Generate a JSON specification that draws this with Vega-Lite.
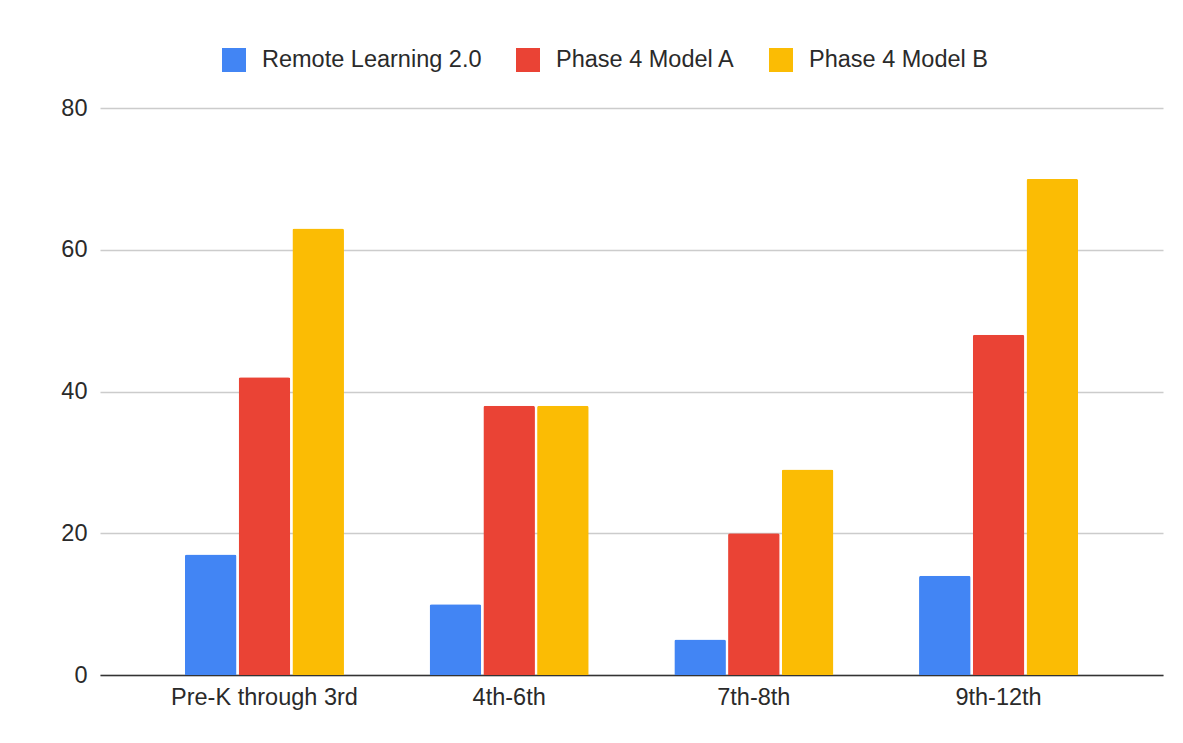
{
  "$schema": "https://vega.github.io/schema/vega-lite/v6.json",
  "width": 1063,
  "height": 567,
  "autosize": {"type": "none"},
  "padding": {"left": 100, "top": 108, "right": 20, "bottom": 68},
  "background": "white",
  "config": {
    "font": "Liberation Sans",
    "view": {"stroke": null},
    "axis": {"labelFont": "Liberation Sans", "labelFontSize": 23.5, "labelColor": "#2a2a2a", "labelLimit": 0},
    "legend": {"labelFont": "Liberation Sans", "labelFontSize": 23.5, "labelColor": "#2a2a2a", "labelLimit": 0}
  },
  "data": {
    "values": [
      {"grade": "Pre-K through 3rd", "series": "Remote Learning 2.0", "value": 17},
      {"grade": "Pre-K through 3rd", "series": "Phase 4 Model A", "value": 42},
      {"grade": "Pre-K through 3rd", "series": "Phase 4 Model B", "value": 63},
      {"grade": "4th-6th", "series": "Remote Learning 2.0", "value": 10},
      {"grade": "4th-6th", "series": "Phase 4 Model A", "value": 38},
      {"grade": "4th-6th", "series": "Phase 4 Model B", "value": 38},
      {"grade": "7th-8th", "series": "Remote Learning 2.0", "value": 5},
      {"grade": "7th-8th", "series": "Phase 4 Model A", "value": 20},
      {"grade": "7th-8th", "series": "Phase 4 Model B", "value": 29},
      {"grade": "9th-12th", "series": "Remote Learning 2.0", "value": 14},
      {"grade": "9th-12th", "series": "Phase 4 Model A", "value": 48},
      {"grade": "9th-12th", "series": "Phase 4 Model B", "value": 70}
    ]
  },
  "mark": {"type": "bar", "cornerRadiusTopLeft": 2, "cornerRadiusTopRight": 2},
  "encoding": {
    "x": {
      "field": "grade",
      "type": "nominal",
      "sort": ["Pre-K through 3rd", "4th-6th", "7th-8th", "9th-12th"],
      "scale": {"paddingInner": 0.35, "paddingOuter": 0.347},
      "axis": {
        "title": null,
        "labelAngle": 0,
        "ticks": false,
        "labelPadding": 10,
        "labelLimit": 0,
        "domain": true,
        "domainColor": "#333333",
        "domainWidth": 1.5,
        "grid": false
      }
    },
    "xOffset": {
      "field": "series",
      "sort": ["Remote Learning 2.0", "Phase 4 Model A", "Phase 4 Model B"],
      "scale": {"paddingInner": 0.04}
    },
    "y": {
      "field": "value",
      "type": "quantitative",
      "scale": {"domain": [0, 80], "nice": false},
      "axis": {
        "title": null,
        "values": [0, 20, 40, 60, 80],
        "ticks": false,
        "domain": false,
        "labelPadding": 13,
        "gridColor": "#cccccc",
        "gridWidth": 1.3
      }
    },
    "color": {
      "field": "series",
      "type": "nominal",
      "scale": {
        "domain": ["Remote Learning 2.0", "Phase 4 Model A", "Phase 4 Model B"],
        "range": ["#4285f4", "#ea4335", "#fbbc04"]
      },
      "legend": {
        "title": null,
        "orient": "none",
        "direction": "horizontal",
        "legendX": 122,
        "legendY": -60,
        "symbolType": "square",
        "symbolSize": 576,
        "symbolStrokeWidth": 0,
        "symbolOpacity": 1,
        "labelOffset": 16,
        "labelLimit": 0,
        "columnPadding": 34
      }
    }
  }
}
